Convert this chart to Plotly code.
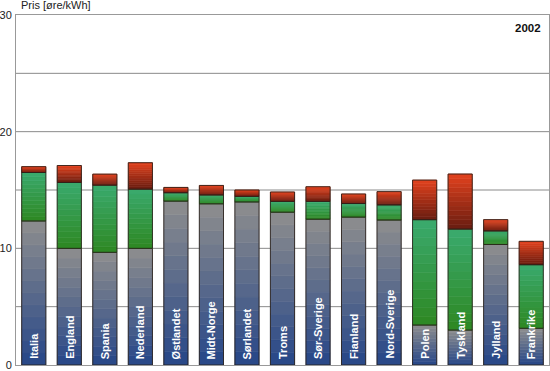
import plotly.graph_objects as go

categories = ["Italia", "England", "Spania", "Nederland", "Østlandet", "Midt-Norge",
              "Sørlandet", "Troms", "Sør-Sverige", "Fianland", "Nord-Sverige",
              "Polen", "Tyskland", "Jylland", "Frankrike"]
grey_vals = [12.35, 10.0, 9.66, 10.0, 14.05, 13.82, 13.98, 13.1, 12.5, 12.68, 12.43, 3.43, 3.0, 10.33, 3.15]
green_vals = [4.15, 5.65, 5.76, 5.08, 0.72, 0.76, 0.48, 0.93, 1.53, 1.16, 1.30, 9.03, 8.66, 1.17, 5.45]
red_vals = [0.50, 1.45, 0.94, 2.26, 0.45, 0.81, 0.54, 0.80, 1.25, 0.82, 1.13, 3.39, 4.71, 0.96, 2.00]
y_ticks = [0, 10, 20, 30]
year_label = "2002"
y_title = "Pris [øre/kWh]"

FONT = "Liberation Sans, Arial, sans-serif"

# gradient styles (bottom colour, top colour)
segments = [
    (grey_vals, (38, 70, 136), (142, 142, 142)),
    (green_vals, (46, 136, 34), (58, 170, 110)),
    (red_vals, (104, 28, 16), (226, 66, 30)),
]
N = 12

def mix(c1, c2, t):
    return "rgb(%d,%d,%d)" % tuple(round(a + (b - a) * t) for a, b in zip(c1, c2))

fig = go.Figure()
bases = [0.0] * len(categories)
for vals, cbot, ctop in segments:
    for j in range(N):
        t = (j + 0.5) / N
        col = mix(cbot, ctop, t)
        fig.add_trace(go.Bar(
            x=categories,
            y=[v / N for v in vals],
            base=[b + v * j / N for b, v in zip(bases, vals)],
            marker=dict(color=col, line=dict(color=col, width=0.6)),
            hoverinfo="skip", showlegend=False,
        ))
    # outline of the segment
    fig.add_trace(go.Bar(
        x=categories, y=vals, base=list(bases),
        marker=dict(color="rgba(0,0,0,0)", line=dict(color="rgba(40,30,25,0.85)", width=1)),
        hoverinfo="skip", showlegend=False,
    ))
    bases = [b + v for b, v in zip(bases, vals)]

annotations = []
for c in categories:
    annotations.append(dict(
        x=c, y=0, xref="x", yref="y", text="<b>%s</b>" % c, textangle=-90,
        showarrow=False, xanchor="center", yanchor="bottom", yshift=4,
        font=dict(family=FONT, size=11, color="white"),
    ))
annotations.append(dict(
    x=1, y=1, xref="paper", yref="paper", text="<b>%s</b>" % year_label,
    showarrow=False, xanchor="right", yanchor="top", xshift=-6, yshift=-5,
    font=dict(family=FONT, size=11.5, color="#111"),
))
annotations.append(dict(
    x=0, y=1, xref="paper", yref="paper", text=y_title,
    showarrow=False, xanchor="left", yanchor="bottom", xshift=3, yshift=2,
    font=dict(family=FONT, size=11, color="#222"),
))

fig.update_layout(
    width=550, height=371,
    margin=dict(l=16, r=1, t=15, b=6),
    barmode="overlay", bargap=0.32,
    plot_bgcolor="white", paper_bgcolor="white",
    annotations=annotations,
    font=dict(family=FONT, size=11, color="#222"),
)
fig.update_xaxes(showticklabels=False, showgrid=False, showline=True, linecolor="#999",
                 linewidth=1, mirror=True, ticks="", automargin=False)
fig.update_yaxes(range=[0, 30], tickvals=y_ticks, showgrid=False, showline=True,
                 linecolor="#999", linewidth=1, mirror=True, ticks="",
                 ticklabelstandoff=1, zeroline=False, automargin=False,
                 tickfont=dict(family=FONT, size=11, color="#222"))
# grid lines every 5
for g in range(5, 30, 5):
    fig.add_hline(y=g, line=dict(color="#8a8a8a", width=1), layer="below")

fig.write_html("out.html", config={"displayModeBar": False},
               post_script="document.body.style.margin='0';document.body.style.overflow='hidden';")
